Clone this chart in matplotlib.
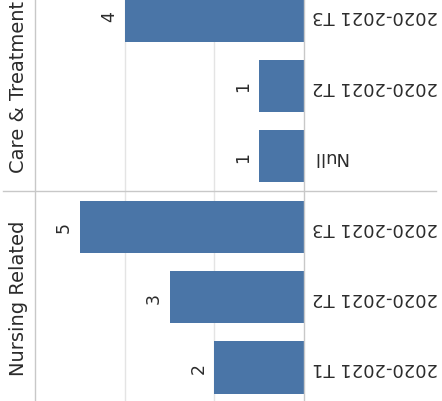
import matplotlib
matplotlib.use("Agg")
import matplotlib.pyplot as plt

# complaint counts by term, grouped by category (bottom row first)
groups = ["Nursing Related", "Care & Treatment"]
group_rows = [1, 4]
terms = ["2020-2021 T1", "2020-2021 T2", "2020-2021 T3",
         "Null", "2020-2021 T2", "2020-2021 T3"]
counts = [2, 3, 5, 1, 1, 4]
rows = list(range(len(terms)))

bar_color = "#4a75a7"
line_color = "#c8c8c8"
grid_color = "#e4e4e4"
text_color = "#2b2b2b"

fig = plt.figure(figsize=(4.42, 4.02), dpi=100)
ax = fig.add_axes([35 / 442, 0, 269 / 442, 1])

ax.barh(rows, counts, height=0.74, color=bar_color, zorder=2)
ax.set_xlim(6, 0)
ax.set_ylim(-0.476, 5.234)

ax.set_xticks([2, 4])
ax.set_yticks([])
ax.tick_params(axis="x", length=0, labelbottom=False)
ax.grid(axis="x", color=grid_color, linewidth=1, zorder=0)
for side in ["top", "bottom"]:
    ax.spines[side].set_visible(False)
for side in ["left", "right"]:
    ax.spines[side].set_color(line_color)
    ax.spines[side].set_linewidth(1)

# value labels beside each bar
for r, v in zip(rows, counts):
    ax.annotate(str(v), (v, r), xytext=(-5, 0), textcoords="offset points",
                rotation=90, ha="right", va="center",
                fontsize=12.5, color=text_color)

# term labels on the right, upside down
for r, t in zip(rows, terms):
    ax.annotate(t, (0, r), xytext=(6, 0), textcoords="offset points",
                rotation=180, ha="left", va="center",
                fontsize=13, color=text_color, annotation_clip=False)

# group headers on the left
for g, r in zip(groups, group_rows):
    ax.annotate(g, (-0.063, r), xycoords=("axes fraction", "data"),
                rotation=90, ha="center", va="center",
                fontsize=14, color=text_color, annotation_clip=False)

# divider between the two groups
ax.axhline(2.5, xmin=-0.119, xmax=1.49, color=line_color,
           linewidth=1, clip_on=False)

fig.savefig("out.png", dpi=100)
